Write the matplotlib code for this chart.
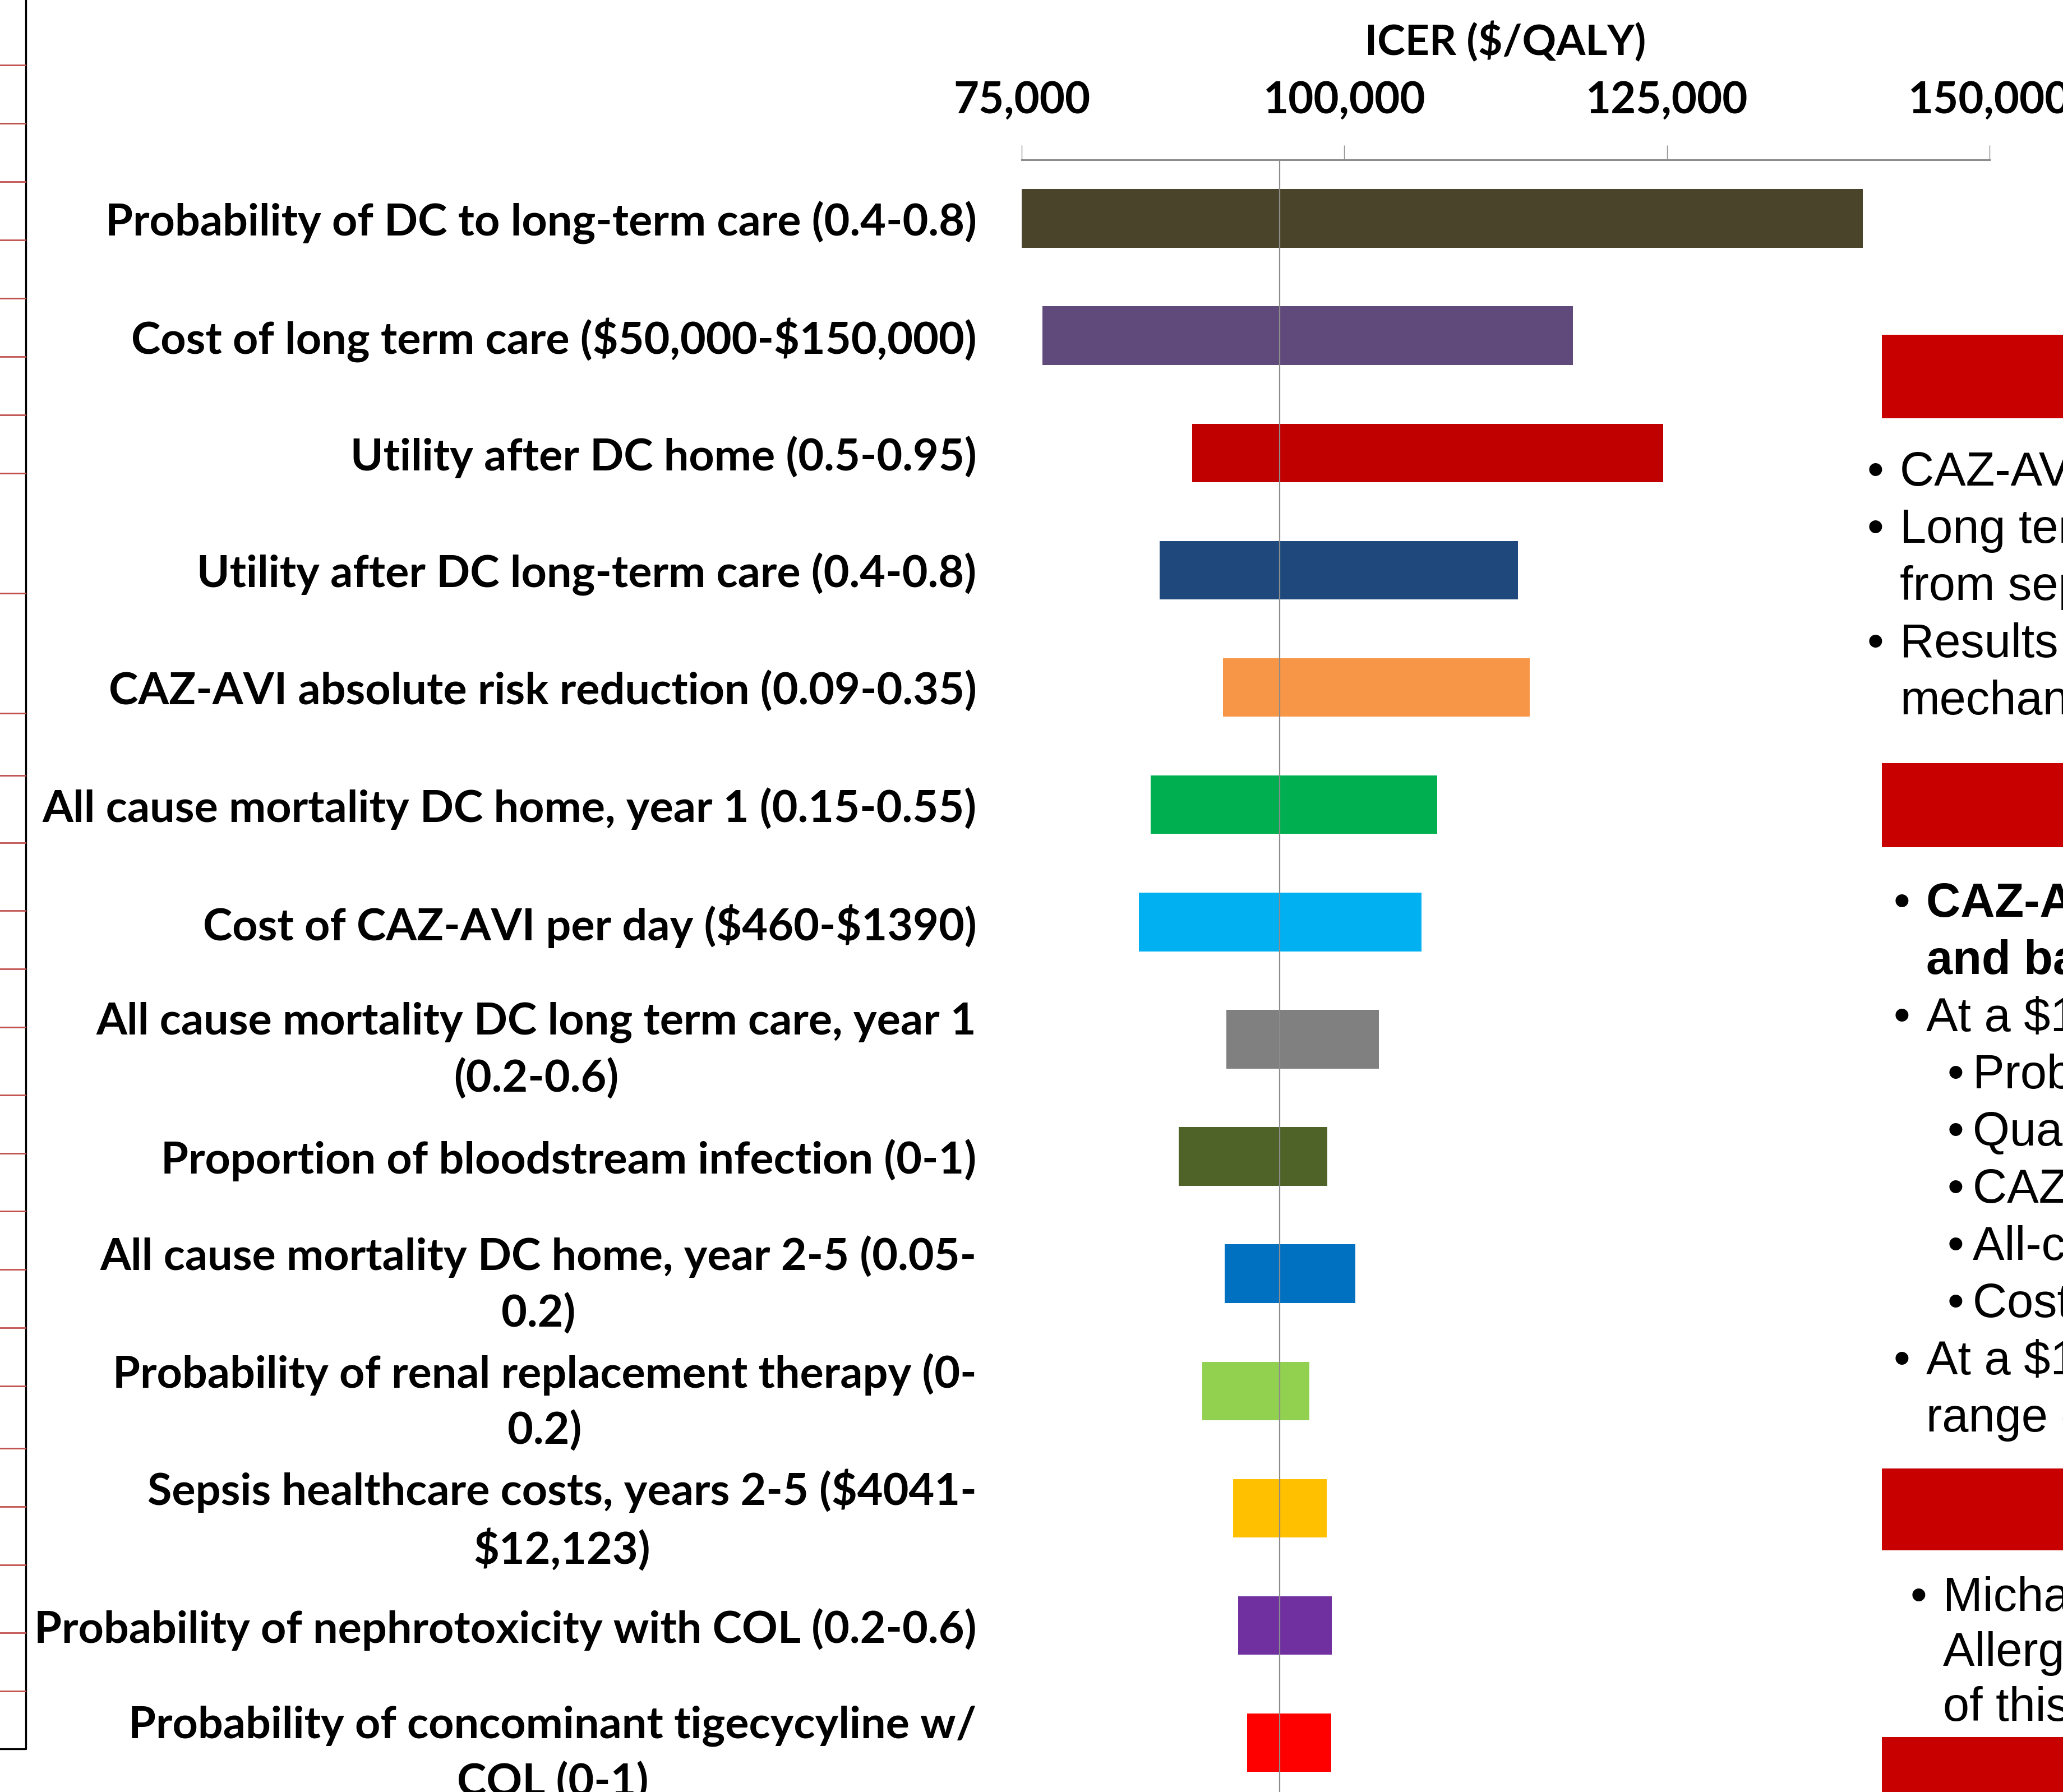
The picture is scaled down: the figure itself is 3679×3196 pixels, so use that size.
import matplotlib
matplotlib.use("Agg")
import matplotlib.pyplot as plt
from matplotlib.patches import Rectangle

plt.rcParams["text.parse_math"] = False

# tornado diagram data (ICER, $/QALY)
labels = [
    "Probability of DC to long-term care (0.4-0.8)",
    "Cost of long term care ($50,000-$150,000)",
    "Utility after DC home (0.5-0.95)",
    "Utility after DC long-term care (0.4-0.8)",
    "CAZ-AVI absolute risk reduction (0.09-0.35)",
    "All cause mortality DC home, year 1 (0.15-0.55)",
    "Cost of CAZ-AVI per day ($460-$1390)",
    "All cause mortality DC long term care, year 1\n(0.2-0.6)",
    "Proportion of bloodstream infection (0-1)",
    "All cause mortality DC home, year 2-5 (0.05-\n0.2)",
    "Probability of renal replacement therapy (0-\n0.2)",
    "Sepsis healthcare costs, years 2-5 ($4041-\n$12,123)",
    "Probability of nephrotoxicity with COL (0.2-0.6)",
    "Probability of concominant tigecycyline w/\nCOL (0-1)",
]
low = [75000, 76600, 88200, 85700, 90600, 85000, 84100,
       90850, 87150, 90750, 89000, 91390, 91780, 92480]
high = [140200, 117700, 124700, 113450, 114350, 107200, 106000,
        102700, 98700, 100850, 97300, 98650, 99040, 99000]
base_icer = 95000
bar_colors = ["#4A452A", "#604A7B", "#C00000", "#1F497D", "#F79646", "#00B050",
              "#00B0F0", "#808080", "#4F6228", "#0070C0", "#92D050", "#FFC000",
              "#7030A0", "#FF0000"]
xticks = [75000, 100000, 125000, 150000]

W, H = 3679, 3196
fig = plt.figure(figsize=(W / 100, H / 100), dpi=100)

# neighbouring poster elements, drawn in pixel coordinates
ov = fig.add_axes([0, 0, 1, 1])
ov.set_xlim(0, W)
ov.set_ylim(H, 0)
ov.axis("off")

ax = fig.add_axes([1822 / W, 0, (3548 - 1822) / W, 1 - 285 / H])
ax.set_facecolor("none")
ypos = list(range(len(labels)))
widths = [h - l for l, h in zip(low, high)]
ax.barh(ypos, widths, left=low, height=0.5, color=bar_colors, zorder=2)
ax.axvline(base_icer, color="#8c8c8c", lw=1.6, zorder=3)
ax.set_xlim(75000, 150000)
ax.set_ylim(13.42, -0.5)

ax.xaxis.tick_top()
ax.set_xticks(xticks, [f"{t:,}" for t in xticks])
ax.tick_params(axis="x", direction="out", length=19, width=1.0, color="#8c8c8c",
               pad=31, labelsize=56)
ax.set_yticks(ypos, labels)
ax.tick_params(axis="y", length=0, pad=58, labelsize=57)
for t in ax.get_yticklabels():
    t.set_multialignment("center")
    t.set_linespacing(1.45)
for t in ax.get_xticklabels() + ax.get_yticklabels():
    t.set_fontfamily("Lato")
    t.set_fontweight("bold")
for s in ["left", "right", "bottom"]:
    ax.spines[s].set_visible(False)
ax.spines["top"].set_color("#8c8c8c")
ax.spines["top"].set_linewidth(2.2)
ax.set_xlabel("ICER ($/QALY)", family="Lato", weight="bold", fontsize=54, labelpad=33)
ax.xaxis.set_label_position("top")

ov.plot([46, 46, 0], [0, 3119, 3119], color="black", lw=2.4)
left_ticks = [116, 220, 324, 428, 532, 636, 740, 844, 1058, 1272, 1383, 1503, 1624,
              1728, 1832, 1953, 2057, 2160, 2264, 2368, 2472, 2583, 2687, 2791, 2912, 3016]
for y in left_ticks:
    ov.plot([0, 45], [y, y], color="#C0504D", lw=2.0)

for y0, y1 in [(597, 746), (1361, 1511), (2619, 2765), (3098, 3196)]:
    ov.add_patch(Rectangle((3356, y0), W - 3356, y1 - y0, color="#C80000", lw=0))

body = dict(family="Liberation Sans", fontsize=61, va="baseline", ha="left")
sec1 = [(True, "CAZ-AVI drug costs were the main driver"),
        (True, "Long term outcomes and costs"),
        (False, "from sepsis were estimated"),
        (True, "Results may differ by resistance"),
        (False, "mechanism")]
y = 866
for bullet, txt in sec1:
    if bullet:
        ov.text(3330, y, "\u2022", **body)
    ov.text(3388, y, txt, **body)
    y += 102

sec2 = [(0, True, True, "CAZ-AVI is cost-effective for CRE"),
        (0, False, True, "and bacteremia"),
        (0, True, False, "At a $100,000/QALY threshold:"),
        (1, True, False, "Probability of DC to long-term care"),
        (1, True, False, "Quality of life after DC"),
        (1, True, False, "CAZ-AVI risk reduction"),
        (1, True, False, "All-cause mortality"),
        (1, True, False, "Cost of long term care"),
        (0, True, False, "At a $150,000/QALY threshold, the"),
        (0, False, False, "range of values")]
y = 1635
for lvl, bullet, bold, txt in sec2:
    bx, tx = (3377, 3435) if lvl == 0 else (3473, 3518)
    if bullet:
        ov.text(bx, y, "\u2022", **body)
    ov.text(tx, y, txt, weight="bold" if bold else "normal", **body)
    y += 102

sec3 = [(True, "Michael has received funding from"),
        (False, "Allergan for the conduct"),
        (False, "of this study")]
y = 2873
for bullet, txt in sec3:
    if bullet:
        ov.text(3407, y, "\u2022", **body)
    ov.text(3465, y, txt, **body)
    y += 98

fig.savefig("out.png", dpi=100)
